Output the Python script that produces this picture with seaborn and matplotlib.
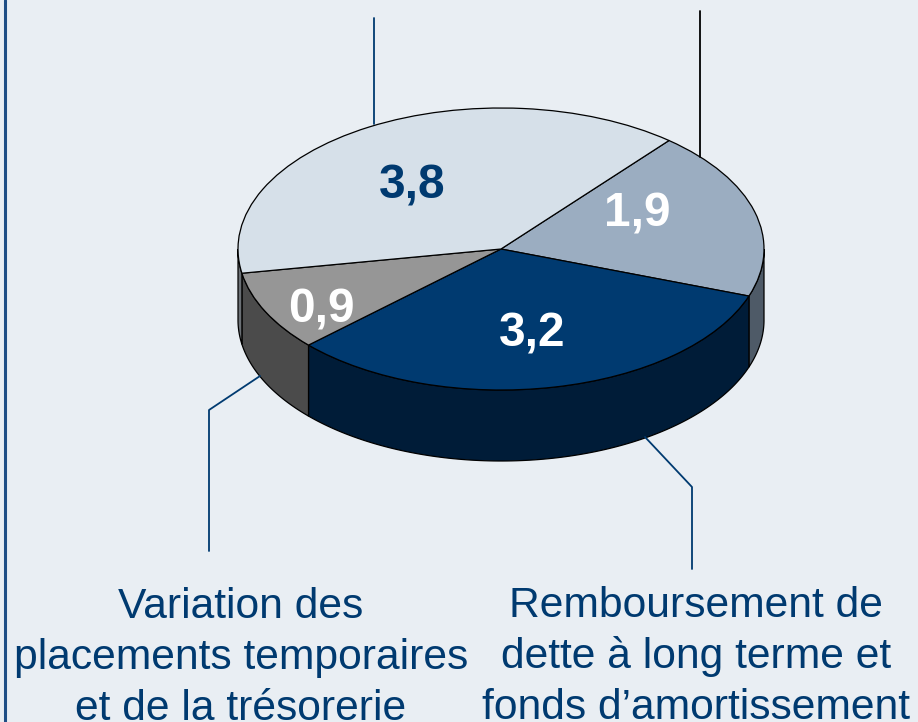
import numpy as np
import matplotlib
matplotlib.use('Agg')
import matplotlib.pyplot as plt
import seaborn as sns

# shares, clockwise from the upper right edge of the pie
values = [1.9, 3.2, 0.9, 3.8]
value_labels = ['1,9', '3,2', '0,9', '3,8']
top_colors = ['#9BADC1', '#003A70', '#969696', '#D6E0E9']
side_colors = ['#4E5A67', '#001C38', '#4B4B4B', '#6B7075']
label_colors = ['white', 'white', 'white', '#003A70']
label_pos = [(637, 226), (532, 347), (321, 323), (412, 199)]

left_label = ['Variation des', 'placements temporaires', 'et de la trésorerie']
right_label = ['Remboursement de', 'dette à long terme et', 'fonds d’amortissement']

BG = '#E9EEF3'
NAVY = '#003A70'
W, H = 918, 722
CX, CY, RX, RY, DEPTH = 501, 249, 263, 141, 71
START = 50.3

sns.set_theme(style='white')
plt.rcParams['font.family'] = ['Liberation Sans', 'DejaVu Sans']

fig = plt.figure(figsize=(W / 100, H / 100), dpi=100, facecolor=BG)

# pie axes: one data unit is RX pixels across and RY pixels up
ax = fig.add_axes([0, 0, 1, 1])
ax.pie(values, colors=sns.color_palette(top_colors), startangle=START,
       counterclock=False, radius=1,
       wedgeprops={'edgecolor': 'black', 'linewidth': 0.9, 'zorder': 3})
ax.set_aspect('auto')
ax.set_xlim(-CX / RX, (W - CX) / RX)
ax.set_ylim((CY - H) / RY, CY / RY)
ax.axis('off')

# side wall, only the front half of each slice shows
depth = DEPTH / RY
edges = START - np.cumsum([0] + values) * 360 / sum(values)
for i in range(len(values)):
    a = min(edges[i], 0)
    b = max(edges[i + 1], -180)
    if a <= b:
        continue
    t = np.radians(np.linspace(a, b, 120))
    x = np.cos(t)
    y = np.sin(t)
    ax.fill(np.r_[x, x[::-1]], np.r_[y, (y - depth)[::-1]], color=side_colors[i],
            ec='black', lw=0.9, zorder=2)

# overlay in pixel coordinates for text and leader lines
over = fig.add_axes([0, 0, 1, 1], facecolor='none')
over.set_xlim(0, W)
over.set_ylim(H, 0)
over.axis('off')

over.plot([5, 5], [0, H], color='#1F4E85', lw=2.2)
over.plot([374, 374], [18, 124], color=NAVY, lw=1.3)
over.plot([700, 700], [11, 157], color='black', lw=1.3)
over.plot([260, 209, 209], [376, 410, 551], color=NAVY, lw=1.3)
over.plot([645, 692, 692], [437, 487, 569], color=NAVY, lw=1.3)

for txt, pos, col in zip(value_labels, label_pos, label_colors):
    over.text(pos[0], pos[1], txt, color=col, fontsize=34.5, fontweight='bold',
              ha='center', va='baseline')

for line, y in zip(left_label, [618, 669, 720]):
    over.text(241, y, line, color=NAVY, fontsize=30.7, ha='center', va='baseline')
for line, y in zip(right_label, [617, 668, 719]):
    over.text(696, y, line, color=NAVY, fontsize=30.7, ha='center', va='baseline')

fig.savefig('out.png', dpi=100, facecolor=BG)
plt.close(fig)
